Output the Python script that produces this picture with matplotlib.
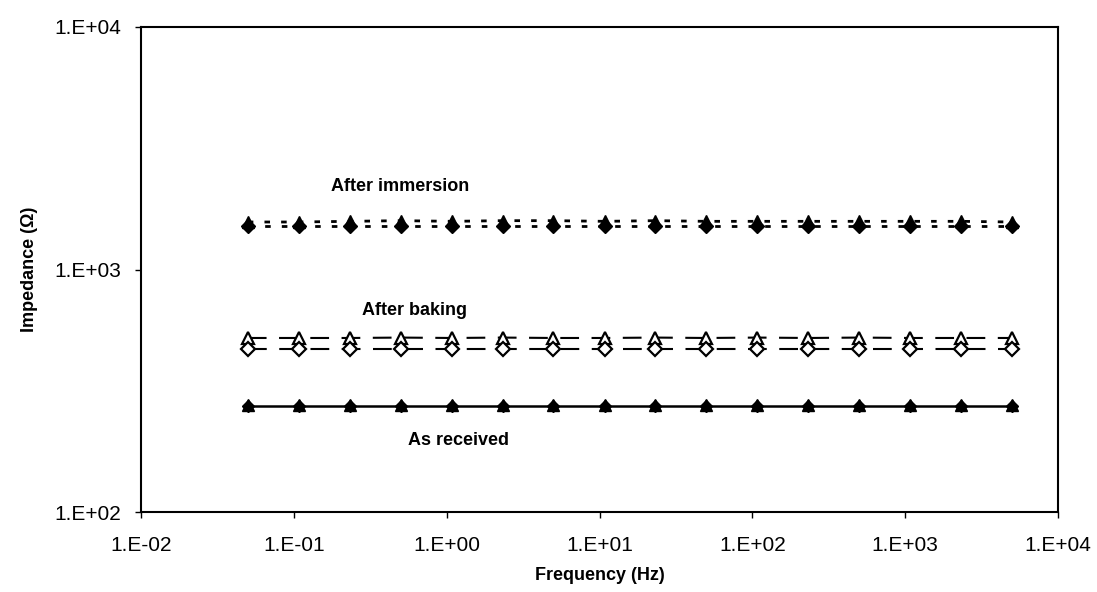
import numpy as np
import matplotlib
matplotlib.use('Agg')
import matplotlib.pyplot as plt
from matplotlib.ticker import FixedLocator, FuncFormatter, NullLocator

# frequencies (Hz), 3 points per decade
freq = [5.0e-2, 1.08e-1, 2.32e-1, 5.0e-1, 1.08, 2.32, 5.0, 10.8, 23.2, 50.0,
        108.0, 232.0, 500.0, 1077.0, 2321.0, 5000.0]

# impedance (ohm)
received_tri = [277, 277, 276, 277, 276, 277, 276, 276, 277, 276, 276, 276, 277, 276, 276, 276]
received_dia = [274, 274, 274, 274, 274, 274, 274, 274, 274, 274, 274, 274, 274, 274, 274, 274]
baking_tri = [522, 522, 522, 524, 522, 524, 522, 522, 524, 522, 524, 522, 524, 522, 522, 522]
baking_dia = [470, 470, 470, 470, 470, 470, 470, 470, 470, 470, 470, 470, 470, 470, 470, 470]
immersion_tri = [1570, 1570, 1580, 1590, 1580, 1590, 1590, 1580, 1590, 1580, 1580, 1580, 1580, 1580, 1580, 1570]
immersion_dia = [1515, 1515, 1515, 1515, 1515, 1515, 1515, 1515, 1515, 1515, 1515, 1515, 1515, 1515, 1515, 1515]

plt.rcParams['font.family'] = ['Liberation Sans', 'DejaVu Sans']

fig = plt.figure(figsize=(10.97, 5.92), dpi=100)
ax = fig.add_axes([0.1285, 0.1351, 0.836, 0.8193])

ms = 8
# as received - solid
ax.plot(freq, received_dia, color='k', lw=1.8, marker='D', ms=ms - 2, mfc='k', mec='k')
ax.plot(freq, received_tri, color='k', lw=0, marker='^', ms=ms + 1, mfc='k', mec='k')
# after baking - dashed, open markers
ax.plot(freq, baking_tri, color='k', lw=1.5, ls=(0, (9, 6)), marker='^', ms=ms + 1,
        mfc='white', mec='k', mew=1.6)
ax.plot(freq, baking_dia, color='k', lw=1.5, ls=(0, (9, 6)), marker='D', ms=ms - 1,
        mfc='white', mec='k', mew=1.6)
# after immersion - dotted, filled markers
ax.plot(freq, immersion_tri, color='k', lw=2.0, ls=(0, (2, 4)), marker='^', ms=ms + 1,
        mfc='k', mec='k')
ax.plot(freq, immersion_dia, color='k', lw=2.0, ls=(0, (2, 4)), marker='D', ms=ms - 1,
        mfc='k', mec='k')

ax.set_xscale('log')
ax.set_yscale('log')
ax.set_xlim(1e-2, 1e4)
ax.set_ylim(1e2, 1e4)

ax.xaxis.set_major_locator(FixedLocator([1e-2, 1e-1, 1e0, 1e1, 1e2, 1e3, 1e4]))
ax.yaxis.set_major_locator(FixedLocator([1e2, 1e3, 1e4]))
ax.xaxis.set_minor_locator(NullLocator())
ax.yaxis.set_minor_locator(NullLocator())
fmt = FuncFormatter(lambda v, p: '1.E%+03d' % int(round(np.log10(v))))
ax.xaxis.set_major_formatter(fmt)
ax.yaxis.set_major_formatter(fmt)
ax.tick_params(axis='both', direction='out', length=4, width=1, labelsize=15)
ax.tick_params(axis='x', pad=13)
ax.tick_params(axis='y', pad=10)

for s in ax.spines.values():
    s.set_linewidth(1.5)

ax.set_xlabel('Frequency (Hz)', fontsize=13, fontweight='bold', labelpad=9)
ax.set_ylabel('Impedance (\u03a9)', fontsize=13, fontweight='bold', labelpad=12)

ax.text(0.495, 2208, 'After immersion', fontsize=13, fontweight='bold', ha='center', va='center')
ax.text(0.62, 675, 'After baking', fontsize=13, fontweight='bold', ha='center', va='center')
ax.text(1.19, 198, 'As received', fontsize=13, fontweight='bold', ha='center', va='center')

fig.savefig('out.png', dpi=100)
